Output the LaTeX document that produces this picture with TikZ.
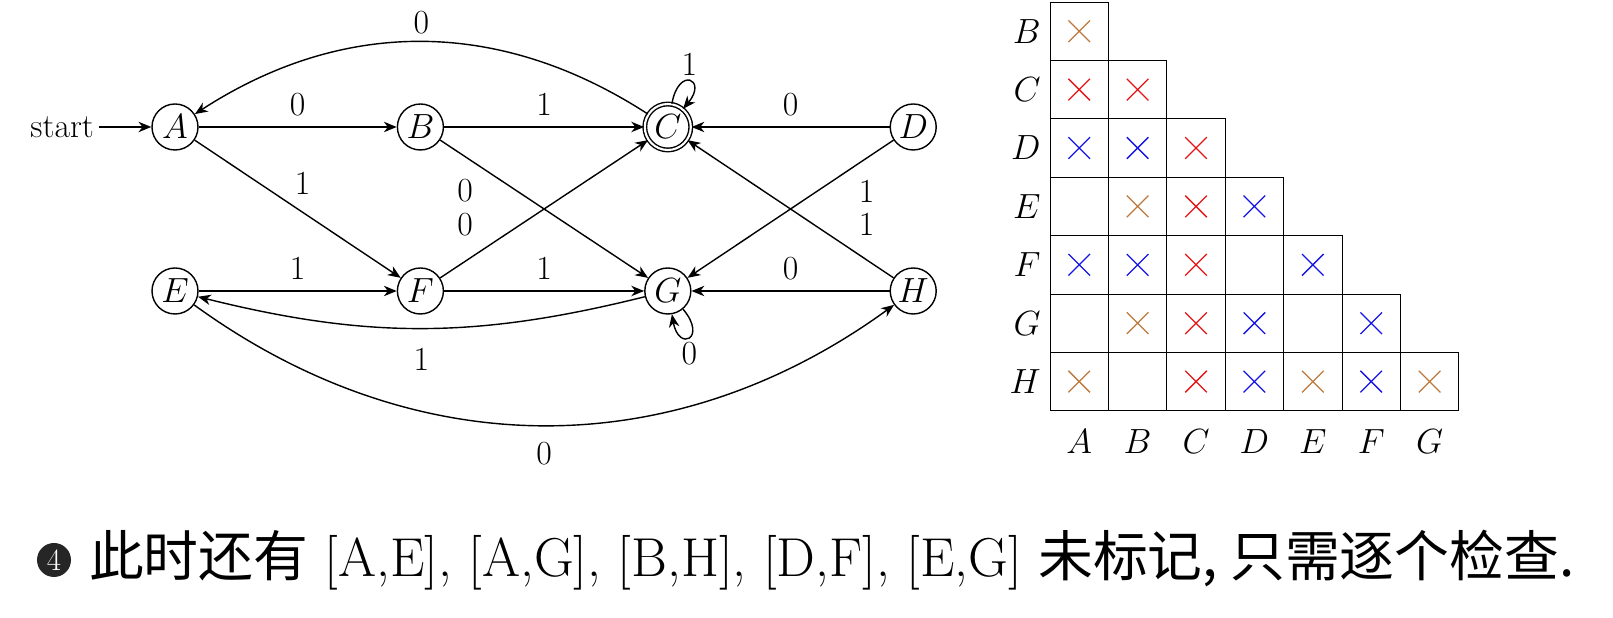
\documentclass[tikz,border=0pt]{standalone}
\usepackage{fontspec}
\newfontfamily\cjk{Noto Sans CJK SC}
\usetikzlibrary{arrows.meta, positioning, automata}

\begin{document}
\begin{tikzpicture}[
    font=\fontsize{24}{28}\selectfont,
    >={Stealth[length=3.2mm,width=2.6mm,inset=1mm]},
    line width=1pt,
    state/.style={draw, circle, minimum size=1.15cm, inner sep=0pt},
    trans/.style={->},
    cell/.style={draw, line width=0.6pt},
    xmark/.style={line width=0.9pt}
]
    \useasboundingbox (0,0) rectangle (40.325,15.45);

    % States
    \node [state] (A) at (4.375,12.275) {$A$};
    \node [state, right=4.95cm of A] (B) {$B$};
    \node [state, double, double distance=1.5pt, right=5cm of B] (C) {$C$};
    \node [state, right=4.95cm of C] (D) {$D$};
    \node [state] (E) at (4.375,8.175) {$E$};
    \node [state, right=4.95cm of E] (F) {$F$};
    \node [state, right=5cm of F] (G) {$G$};
    \node [state, right=4.95cm of G] (H) {$H$};
    \node [left=1.3cm of A] (start) {start};

    % Transitions
    \draw [trans] (start) -- (A);
    \draw [trans] (A) -- node[above=4pt] {0} (B);
    \draw [trans] (B) -- node[above=4pt] {1} (C);
    \draw [trans] (D) -- node[above=4pt] {0} (C);
    \draw [trans] (E) -- node[above=4pt] {1} (F);
    \draw [trans] (F) -- node[above=4pt] {1} (G);
    \draw [trans] (H) -- node[above=4pt] {0} (G);
    \draw [trans] (A) -- node[above right=2pt, pos=0.45] {1} (F);
    \draw [trans] (B) -- node[pos=0.12, yshift=-0.85cm] {0} (G);
    \draw [trans] (F) -- node[pos=0.12, yshift=0.92cm] {0} (C);
    \draw [trans] (D) -- node[pos=0.13, yshift=-0.83cm] {1} (G);
    \draw [trans] (H) -- node[pos=0.13, yshift=0.9cm] {1} (C);

    % Curved ones
    \draw [trans] (C) to[bend right=33] node[above=2pt] {0} (A);
    \draw [trans] (G) to[bend left=14] node[below=10pt] {1} (E);
    \draw [trans] (E) to[bend right=36] node[below=8pt] {0} (H);

    % Self loops
    \draw [trans] (C) to[out=80, in=50, looseness=0, min distance=0.9cm, loop] node[above] {1} (C);
    \draw [trans] (G) to[out=-50, in=-80, looseness=0, min distance=0.9cm, loop] node[below] {0} (G);

    % Table of marked pairs
    \def\cs{1.46}
    \begin{scope}[font=\fontsize{34}{38}\selectfont]
    \foreach \row [count=\i] in {B,C,D,E,F,G,H} {
        \node [anchor=east] at (26.15, {15.4-(\i-0.5)*\cs}) {$\row$};
        \foreach \j in {1,...,\i}
            \draw [cell] ({26.25+(\j-1)*\cs}, {15.4-(\i-1)*\cs}) rectangle ++(\cs,-\cs);
    }
    \foreach \col [count=\j] in {A,B,C,D,E,F,G}
        \node at ({26.25+(\j-0.5)*\cs}, 4.4) {$\col$};
    \end{scope}

    % Crosses: row, column, colour
    \definecolor{mkO}{RGB}{190,120,60}
    \definecolor{mkR}{RGB}{230,20,20}
    \definecolor{mkB}{RGB}{20,20,230}
    \foreach \i/\j/\c in {1/1/mkO, 2/1/mkR, 2/2/mkR, 3/1/mkB, 3/2/mkB, 3/3/mkR,
        4/2/mkO, 4/3/mkR, 4/4/mkB, 5/1/mkB, 5/2/mkB, 5/3/mkR, 5/5/mkB,
        6/2/mkO, 6/3/mkR, 6/4/mkB, 6/6/mkB,
        7/1/mkO, 7/3/mkR, 7/4/mkB, 7/5/mkO, 7/6/mkB, 7/7/mkO}
        \draw [xmark, \c] ({26.25+(\j-0.5)*\cs}, {15.4-(\i-0.5)*\cs}) +(-0.27,-0.27) -- +(0.27,0.27) +(-0.27,0.27) -- +(0.27,-0.27);

    % Note below
    \node [circle, fill=black!85, text=white, inner sep=0.5pt, minimum size=0.85cm, font=\fontsize{22}{24}\selectfont] (num) at (1.35,1.45) {4};
    \node [right=0.3cm of num, font=\fontsize{39}{44}\selectfont] (note) {{\cjk 此时还有} [A,E], [A,G], [B,H], [D,F], [E,G] {\cjk 未标记, 只需逐个检查.}};
\end{tikzpicture}
\end{document}
